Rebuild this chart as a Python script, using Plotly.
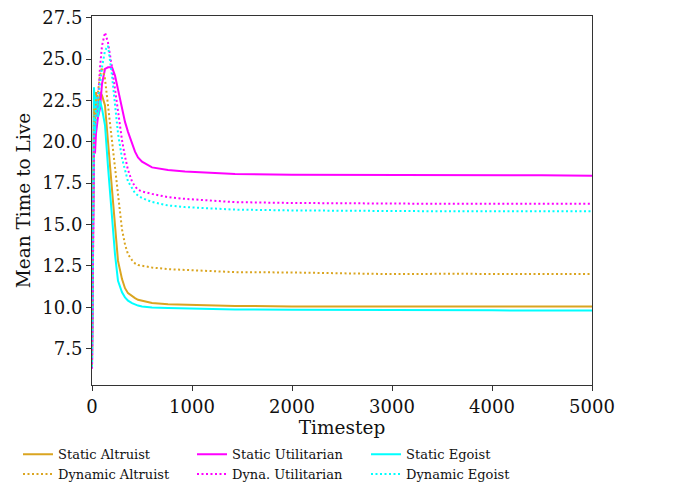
import plotly.graph_objects as go

timesteps = [0, 10, 20, 30, 40, 60, 80, 100, 130, 160, 200, 230, 260, 300, 330, 360, 400, 430, 460, 500,
             600, 760, 930, 1260, 1430, 2000, 2500, 3000, 3500, 4000, 4500, 5000]

static_altruist = [6.5, 18.0, 23.2, 21.5, 23.0, 22.0, 23.0, 22.8, 22.2, 20.0, 17.1, 14.8, 12.8, 11.7, 11.15, 10.85,
                   10.65, 10.55, 10.45, 10.38, 10.25, 10.18, 10.15, 10.1, 10.08, 10.05, 10.05, 10.03, 10.05, 10.03, 10.05, 10.05]
dynamic_altruist = [6.5, 17.0, 22.0, 21.0, 22.5, 23.0, 24.0, 24.5, 23.8, 22.2, 20.0, 18.2, 16.5, 14.7, 13.8, 13.2,
                    12.85, 12.65, 12.55, 12.5, 12.4, 12.3, 12.25, 12.15, 12.12, 12.1, 12.05, 12.0, 12.02, 12.0, 12.0, 12.0]
static_utilitarian = [6.3, 14.0, 19.5, 19.3, 20.5, 21.5, 22.0, 23.5, 24.4, 24.5, 24.5, 24.0, 23.1, 21.9, 21.2, 20.6,
                      19.9, 19.4, 19.05, 18.8, 18.45, 18.3, 18.2, 18.1, 18.05, 18.0, 18.0, 17.98, 17.98, 17.97, 17.97, 17.95]
dyna_utilitarian = [6.3, 15.0, 20.0, 21.0, 21.5, 22.5, 24.5, 25.8, 26.6, 26.0, 24.5, 23.1, 21.8, 20.1, 19.1, 18.3,
                    17.6, 17.3, 17.1, 17.0, 16.85, 16.65, 16.55, 16.4, 16.35, 16.3, 16.27, 16.25, 16.25, 16.25, 16.25, 16.25]
static_egoist = [6.4, 17.0, 23.3, 20.5, 22.8, 21.5, 22.5, 22.0, 21.0, 18.5, 15.5, 13.2, 11.6, 10.9, 10.6, 10.4,
                 10.25, 10.15, 10.1, 10.05, 9.98, 9.95, 9.93, 9.88, 9.87, 9.85, 9.83, 9.83, 9.82, 9.81, 9.8, 9.8]
dynamic_egoist = [6.4, 16.0, 21.5, 20.5, 22.0, 22.5, 23.5, 24.5, 25.5, 25.8, 24.0, 22.2, 20.5, 19.0, 18.2, 17.6,
                  17.2, 16.9, 16.75, 16.6, 16.36, 16.15, 16.05, 15.95, 15.9, 15.85, 15.82, 15.8, 15.8, 15.8, 15.8, 15.8]

x_ticks = [0, 1000, 2000, 3000, 4000, 5000]
y_ticks = [7.5, 10.0, 12.5, 15.0, 17.5, 20.0, 22.5, 25.0, 27.5]

GOLD = "#DAA520"
MAG = "#FF00FF"
CYAN = "#00FFFF"
DOT = "2px,2.5px"

series = [
    ("Static Altruist", static_altruist, GOLD, "solid"),
    ("Static Utilitarian", static_utilitarian, MAG, "solid"),
    ("Static Egoist", static_egoist, CYAN, "solid"),
    ("Dynamic Altruist", dynamic_altruist, GOLD, DOT),
    ("Dyna. Utilitarian", dyna_utilitarian, MAG, DOT),
    ("Dynamic Egoist", dynamic_egoist, CYAN, DOT),
]

fig = go.Figure()
for name, vals, color, dash in series:
    fig.add_trace(go.Scatter(x=timesteps, y=vals, mode="lines", name=name,
                             line=dict(color=color, width=2, dash=dash)))

FONT = "DejaVu Serif"
axis_common = dict(showline=True, linecolor="#333333", linewidth=1, mirror=True,
                   ticks="outside", ticklen=5, tickcolor="#333333", showgrid=False,
                   zeroline=False, ticklabeloverflow="allow",
                   tickfont=dict(family=FONT, size=18, color="#111111"))

# page body adds an 8px margin, so the figure is sized 666x475
fig.update_layout(
    width=666, height=475,
    margin=dict(l=84, r=82, t=8, b=98, autoexpand=False),
    plot_bgcolor="white", paper_bgcolor="white",
    font=dict(family=FONT, color="#111111"),
    xaxis=dict(range=[0, 5000], tickvals=x_ticks, ticktext=[str(v) for v in x_ticks],
               title=dict(text="Timestep", font=dict(family=FONT, size=18.5), standoff=4),
               **axis_common),
    yaxis=dict(range=[5.3, 27.6], tickvals=y_ticks, ticktext=[f"{v:.1f}" for v in y_ticks],
               title=dict(text="Mean Time to Live", font=dict(family=FONT, size=18.5), standoff=6),
               **axis_common),
    showlegend=True,
    legend=dict(orientation="h", x=-0.148, xanchor="left", y=-0.147, yanchor="top",
                entrywidth=129, entrywidthmode="pixels",
                font=dict(family=FONT, size=13, color="#111111"),
                bgcolor="rgba(0,0,0,0)", tracegroupgap=0, itemwidth=30),
)

fig.write_html("out.html")
